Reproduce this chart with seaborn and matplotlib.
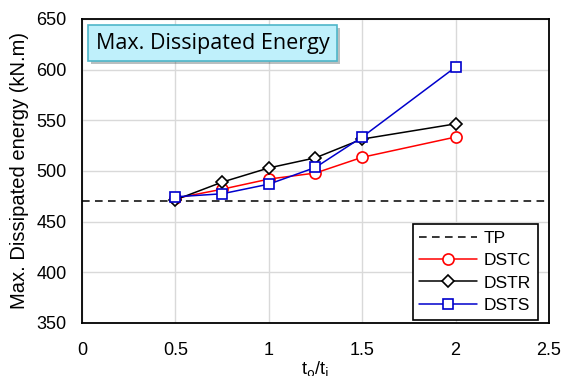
import matplotlib
matplotlib.use("Agg")
import matplotlib.pyplot as plt
import matplotlib.patheffects as pe
import seaborn as sns
import pandas as pd

ratio = [0.5, 0.75, 1.0, 1.25, 1.5, 2.0]
dstc = [473, 482, 492, 498, 513.5, 533.5]
dstr = [471.5, 489, 503, 513, 531.5, 546.5]
dsts = [474.5, 477.5, 487, 503.5, 533.5, 602.5]
tp_value = 470
x_ticks = [0, 0.5, 1, 1.5, 2, 2.5]
x_tick_labels = ["0", "0.5", "1", "1.5", "2", "2.5"]
y_ticks = [350, 400, 450, 500, 550, 600, 650]

sns.set_theme(style="whitegrid")
plt.rcParams['font.family'] = ['Liberation Sans', 'DejaVu Sans']
plt.rcParams['text.color'] = 'black'
plt.rcParams['axes.labelcolor'] = 'black'

df = pd.DataFrame({"ratio": ratio * 3,
                   "energy": dstc + dstr + dsts,
                   "series": ["DSTC"] * 6 + ["DSTR"] * 6 + ["DSTS"] * 6})

fig = plt.figure(figsize=(5.63, 3.76), dpi=100)
ax = fig.add_axes([0.1457, 0.141, 0.8293, 0.8085])

ax.axhline(tp_value, color="black", lw=1.1, ls=(0, (5, 3.5)), label="TP", zorder=2)

styles = {"DSTC": ("red", "o", 8), "DSTR": ("black", "D", 6), "DSTS": ("#0000cc", "s", 6.5)}
for name, (c, m, ms) in styles.items():
    sub = df[df.series == name]
    sns.lineplot(data=sub, x="ratio", y="energy", ax=ax, color=c, marker=m,
                 markersize=ms, markerfacecolor="white", markeredgecolor=c,
                 markeredgewidth=1.2, lw=1.1, label=name, zorder=3)

ax.set_xlim(0, 2.5)
ax.set_ylim(350, 650)
ax.set_xticks(x_ticks)
ax.set_xticklabels(x_tick_labels)
ax.set_yticks(y_ticks)
ax.tick_params(labelsize=13, colors="black", pad=5)
ax.tick_params(axis="x", pad=8)
ax.grid(True, color="#d9d9d9", lw=1)
for s in ax.spines.values():
    s.set_color("black")
    s.set_linewidth(1.3)

ax.set_xlabel(r"t$_{\rm o}$/t$_{\rm i}$", fontsize=13, labelpad=0)
ax.set_ylabel("Max. Dissipated energy (kN.m)", fontsize=14.5, labelpad=5)

leg = ax.legend(loc="lower right", bbox_to_anchor=(0.9764, 0.01), fontsize=12.5,
                frameon=True, fancybox=False, edgecolor="black", framealpha=1,
                handlelength=3.3, borderaxespad=0, labelspacing=0.42,
                borderpad=0.4, handletextpad=0.4)
leg.get_frame().set_linewidth(1.2)

t = ax.text(0.03, 0.955, "Max. Dissipated Energy", transform=ax.transAxes,
            fontsize=15.5, family=["Open Sans", "DejaVu Sans"], va="top", ha="left",
            bbox=dict(boxstyle="square,pad=0.36", facecolor="#bff0fb",
                      edgecolor="#4fb6c9", lw=1.2), zorder=5)
t.get_bbox_patch().set_path_effects([pe.withSimplePatchShadow(offset=(2, -2), alpha=0.35)])

fig.savefig("out.png", dpi=100)
